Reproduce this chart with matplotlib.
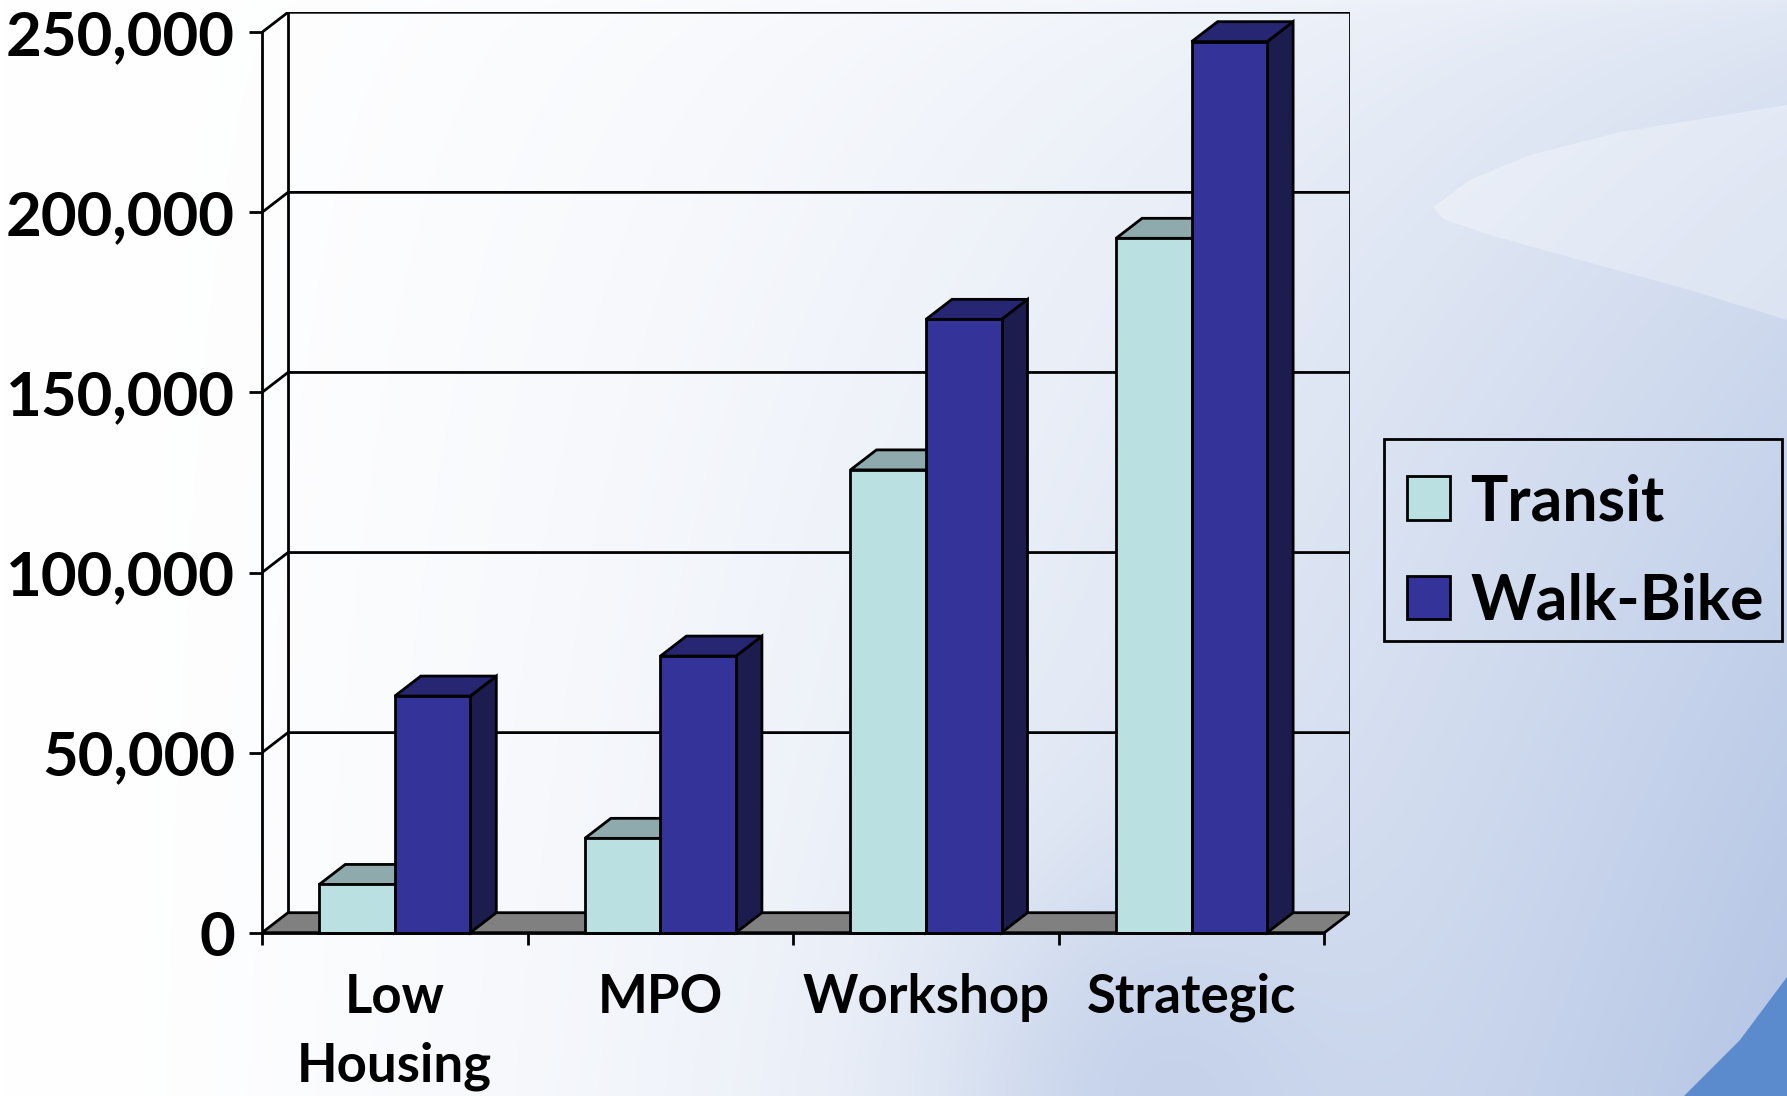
import numpy as np
import matplotlib
matplotlib.use("Agg")
import matplotlib.pyplot as plt
from matplotlib.patches import Polygon, Rectangle, Patch

# ---------------- data ----------------
categories = ["Low\nHousing", "MPO", "Workshop", "Strategic"]
series_names = ["Transit", "Walk-Bike"]
transit = [13400, 26200, 128500, 192800]
walk_bike = [65700, 76800, 170300, 247400]
y_ticks = [0, 50000, 100000, 150000, 200000, 250000]
y_tick_labels = ["0", "50,000", "100,000", "150,000", "200,000", "250,000"]

# ---------------- style ----------------
FONT = "Lato"
FS_Y = 44.5
FS_X = 38
FS_LEG = 45
front_colors = ["#BAE0E2", "#343399"]
top_colors = ["#8FAAAC", "#262673"]
side_colors = ["#6F8A8C", "#1C1C4F"]
floor_color = "#808080"
LW = 2.0

W, H = 1787, 1096
fig = plt.figure(figsize=(W / 100, H / 100), dpi=100)

# background gradient
bg = fig.add_axes([0, 0, 1, 1], zorder=-10)
bg.set_axis_off()
yy, xx = np.mgrid[0:1:400j, 0:1:600j]
t = xx ** 1.7 * (0.35 + 0.6 * yy ** 0.6)
px, py = xx * W, yy * H
t = t + 0.28 * np.exp(-(((px - 1130) / 190) ** 2 + ((py - 1096) / 230) ** 2))
t = np.clip(t, 0, 1)
c0 = np.array([1.0, 1.0, 1.0])
c1 = np.array([0.69, 0.76, 0.89])
img = c0 + (c1 - c0) * t[..., None]
bg.imshow(img, extent=[0, 1, 0, 1], origin="upper", aspect="auto")


def fp(x, y):
    return (x / W, 1 - y / H)


lobe = [fp(1433, 207), fp(1470, 180), fp(1530, 155), fp(1620, 132), fp(1787, 105),
        fp(1787, 320), fp(1690, 290), fp(1580, 260), fp(1490, 235), fp(1445, 220)]
bg.add_patch(Polygon(lobe, closed=True, facecolor="white", edgecolor="none", alpha=0.3))
wedge = [fp(1787, 977), fp(1740, 1040), fp(1684, 1096), fp(1787, 1096)]
bg.add_patch(Polygon(wedge, closed=True, facecolor="#5B8BCC", edgecolor="none"))
bg.set_xlim(0, 1)
bg.set_ylim(0, 1)

# main axes (front plane of the 3-D box)
DX = 26 / 265.6
DY = 20 / 0.0036016
ax = fig.add_axes([262 / W, (H - 932.7) / H, 1088.4 / W, 920.4 / H])
ax.patch.set_visible(False)
ncat = len(categories)
ax.set_xlim(0, ncat + DX)
ax.set_ylim(0, y_ticks[-1] + DY)

for s in ["top", "right"]:
    ax.spines[s].set_visible(False)
ax.spines["left"].set_bounds(0, y_ticks[-1])
ax.spines["bottom"].set_bounds(0, ncat)
for s in ["left", "bottom"]:
    ax.spines[s].set_linewidth(LW)
    ax.spines[s].set_zorder(50)

ax.set_yticks(y_ticks)
ax.set_yticklabels(y_tick_labels)
ax.tick_params(axis="y", length=9.4, width=LW, pad=10)
ax.set_xticks(range(ncat + 1))
ax.set_xticklabels([])
ax.tick_params(axis="x", which="major", length=8.6, width=LW)
ax.set_xticks([i + 0.5 for i in range(ncat)], minor=True)
ax.set_xticklabels(categories, minor=True, linespacing=1.48)
ax.tick_params(axis="x", which="minor", length=0, pad=29)
for lab in ax.get_yticklabels():
    lab.set_fontfamily(FONT)
    lab.set_fontweight("bold")
    lab.set_fontsize(FS_Y)
for lab in ax.get_xticklabels(minor=True):
    lab.set_fontfamily(FONT)
    lab.set_fontweight("bold")
    lab.set_fontsize(FS_X)

# floor
ax.add_patch(Polygon([(0, 0), (ncat, 0), (ncat + DX, DY), (DX, DY)], closed=True,
                     facecolor=floor_color, edgecolor="black", lw=LW, zorder=2,
                     joinstyle="miter"))
# back wall + left wall gridlines
for v in y_ticks[1:]:
    ax.plot([0, DX, ncat + DX], [v, v + DY, v + DY], color="black", lw=LW, zorder=1,
            solid_joinstyle="miter")
ax.plot([DX, DX], [DY, y_ticks[-1] + DY], color="black", lw=LW, zorder=1)
ax.plot([ncat + DX, ncat + DX], [DY, y_ticks[-1] + DY], color="black", lw=LW, zorder=1)

# bars
gap = 0.2157
bw = (1 - 2 * gap) / 2
z = 10
for i in range(ncat):
    for j, vals in enumerate([transit, walk_bike]):
        h = vals[i]
        x0 = i + gap + j * bw
        side = Polygon([(x0 + bw, 0), (x0 + bw + DX, DY), (x0 + bw + DX, h + DY), (x0 + bw, h)],
                       closed=True, facecolor=side_colors[j], edgecolor="black", lw=LW,
                       zorder=z, joinstyle="miter")
        top = Polygon([(x0, h), (x0 + bw, h), (x0 + bw + DX, h + DY), (x0 + DX, h + DY)],
                      closed=True, facecolor=top_colors[j], edgecolor="black", lw=LW,
                      zorder=z + 0.1, joinstyle="miter")
        front = Rectangle((x0, 0), bw, h, facecolor=front_colors[j], edgecolor="black",
                          lw=LW, zorder=z + 0.2, joinstyle="miter")
        for p in (side, top, front):
            p.set_clip_on(False)
            ax.add_patch(p)
        z += 1

# legend: frame drawn as a box, entries placed by fig.legend
fig.patches.append(Rectangle((1384 / W, 1 - 641 / H), (1782 - 1384) / W, (641 - 439) / H,
                             transform=fig.transFigure, facecolor="none",
                             edgecolor="black", lw=LW))
handles = [Patch(facecolor=front_colors[k], edgecolor="black", lw=LW) for k in range(2)]
leg = fig.legend(handles, series_names, loc="upper left",
                 bbox_to_anchor=(1407 / W, 1 - 473 / H), borderaxespad=0,
                 frameon=False, borderpad=0,
                 prop={"family": FONT, "weight": "bold", "size": FS_LEG},
                 handlelength=0.69, handleheight=0.69, handletextpad=0.32,
                 labelspacing=0.66)

fig.savefig("out.png", dpi=100)
